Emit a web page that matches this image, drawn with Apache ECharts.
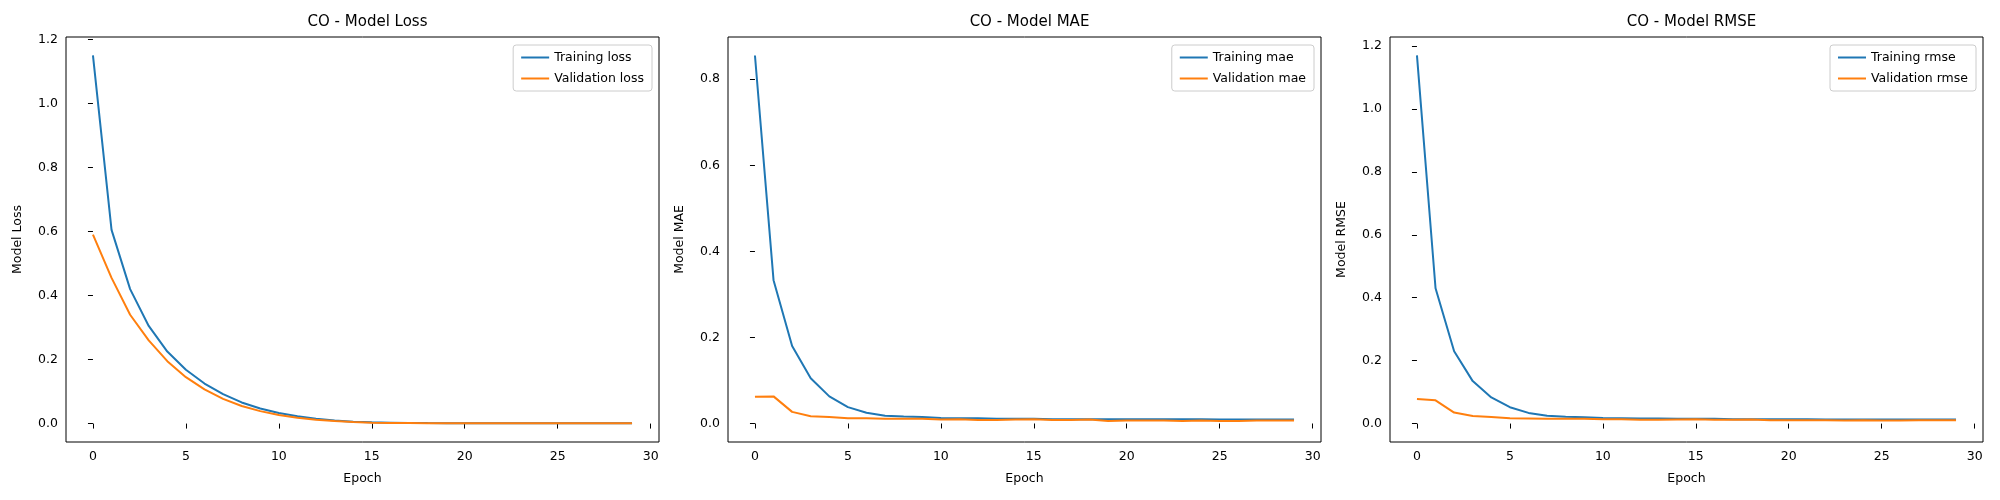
<!DOCTYPE html>
<html><head><meta charset="utf-8">
<script src="https://cdn.jsdelivr.net/npm/echarts@6/dist/echarts.min.js"></script>
<style>html,body{margin:0;padding:0;background:#fff}#c{width:2000px;height:500px}</style>
</head><body><div id="c"></div>
<script>
const epochs = Array.from({length:30},(_,i)=>i);
const trainLoss = [1.15,0.605,0.42,0.305,0.225,0.168,0.125,0.092,0.066,0.047,0.033,0.023,0.015,0.010,0.006,0.004,0.003,0.002,0.0015,0.0012,0.001,0.001,0.001,0.001,0.001,0.001,0.001,0.001,0.001,0.001];
const valLoss = [0.59,0.455,0.34,0.26,0.195,0.145,0.107,0.077,0.055,0.039,0.027,0.018,0.012,0.008,0.005,0.003,0.002,0.0015,0.001,0.001,0.0008,0.0008,0.0008,0.0008,0.0008,0.0008,0.0008,0.0008,0.0008,0.0008];
const trainMae = [0.855,0.333,0.18,0.105,0.063,0.038,0.025,0.018,0.016,0.015,0.013,0.012,0.012,0.011,0.011,0.011,0.010,0.010,0.010,0.010,0.010,0.010,0.010,0.010,0.010,0.009,0.009,0.009,0.009,0.009];
const valMae = [0.062,0.063,0.027,0.017,0.015,0.012,0.012,0.011,0.011,0.011,0.009,0.010,0.008,0.008,0.009,0.010,0.008,0.008,0.009,0.006,0.007,0.007,0.007,0.006,0.007,0.006,0.006,0.007,0.007,0.007];
const trainRmse = [1.17,0.43,0.23,0.135,0.083,0.052,0.034,0.025,0.022,0.020,0.018,0.017,0.016,0.016,0.015,0.015,0.015,0.014,0.014,0.014,0.014,0.014,0.013,0.013,0.013,0.013,0.013,0.013,0.013,0.013];
const valRmse = [0.078,0.074,0.035,0.024,0.021,0.017,0.016,0.015,0.015,0.015,0.014,0.014,0.012,0.012,0.013,0.014,0.012,0.012,0.013,0.011,0.011,0.011,0.011,0.010,0.011,0.010,0.010,0.011,0.011,0.011];
const xTicks = [0,5,10,15,20,25,30];

const panels = [
  {title:'CO - Model Loss', ylabel:'Model Loss', tr:trainLoss, va:valLoss, names:['Training loss','Validation loss'], ymin:-0.0575, ymax:1.2075, yt:[0,0.2,0.4,0.6,0.8,1.0,1.2]},
  {title:'CO - Model MAE', ylabel:'Model MAE', tr:trainMae, va:valMae, names:['Training mae','Validation mae'], ymin:-0.043, ymax:0.898, yt:[0,0.2,0.4,0.6,0.8]},
  {title:'CO - Model RMSE', ylabel:'Model RMSE', tr:trainRmse, va:valRmse, names:['Training rmse','Validation rmse'], ymin:-0.0585, ymax:1.2285, yt:[0,0.2,0.4,0.6,0.8,1.0,1.2]}
];
const lefts=[66,728,1390], W=593, TOP=37, H=405;
const font='DejaVu Sans';
const opt={animation:false,textStyle:{fontFamily:font},grid:[],xAxis:[],yAxis:[],series:[],title:[],legend:[]};
panels.forEach((p,i)=>{
  const L=lefts[i];
  opt.grid.push({left:L,top:TOP,width:W,height:H,show:true,borderColor:'#000',borderWidth:1});
  opt.title.push({text:p.title,left:L+W/2,top:10,textAlign:'center',textStyle:{fontFamily:font,fontSize:15,fontWeight:'normal',color:'#000'}});
  opt.xAxis.push({type:'value',gridIndex:i,min:-1.45,max:30.45,name:'Epoch',nameLocation:'middle',nameGap:30,nameTextStyle:{fontSize:12.5,color:'#000',fontFamily:font},
    axisLine:{show:false},splitLine:{show:false},
    axisTick:{show:true,customValues:xTicks,length:5,lineStyle:{color:'#000'}},
    axisLabel:{customValues:xTicks,fontSize:12.5,color:'#000',fontFamily:font,margin:8}});
  opt.yAxis.push({type:'value',gridIndex:i,min:p.ymin,max:p.ymax,name:p.ylabel,nameLocation:'middle',nameGap:42,nameTextStyle:{fontSize:12.5,color:'#000',fontFamily:font},
    axisLine:{show:false},splitLine:{show:false},
    axisTick:{show:true,customValues:p.yt,length:5,lineStyle:{color:'#000'}},
    axisLabel:{customValues:p.yt,formatter:v=>v.toFixed(1),fontSize:12.5,color:'#000',fontFamily:font,margin:8}});
  opt.series.push({type:'line',name:p.names[0],xAxisIndex:i,yAxisIndex:i,data:epochs.map((e,k)=>[e,p.tr[k]]),showSymbol:false,lineStyle:{color:'#1f77b4',width:2},itemStyle:{color:'#1f77b4'}});
  opt.series.push({type:'line',name:p.names[1],xAxisIndex:i,yAxisIndex:i,data:epochs.map((e,k)=>[e,p.va[k]]),showSymbol:false,lineStyle:{color:'#ff7f0e',width:2},itemStyle:{color:'#ff7f0e'}});
  opt.legend.push({data:p.names,orient:'vertical',right:2000-(L+W)+7,top:TOP+8,itemWidth:28,itemHeight:2,itemGap:8,icon:'rect',
    borderColor:'#ccc',borderWidth:1,borderRadius:3,padding:[6,8,6,8],backgroundColor:'rgba(255,255,255,0.8)',
    textStyle:{fontSize:12.5,color:'#000',fontFamily:font}});
});
echarts.init(document.getElementById('c')).setOption(opt);
</script></body></html>
